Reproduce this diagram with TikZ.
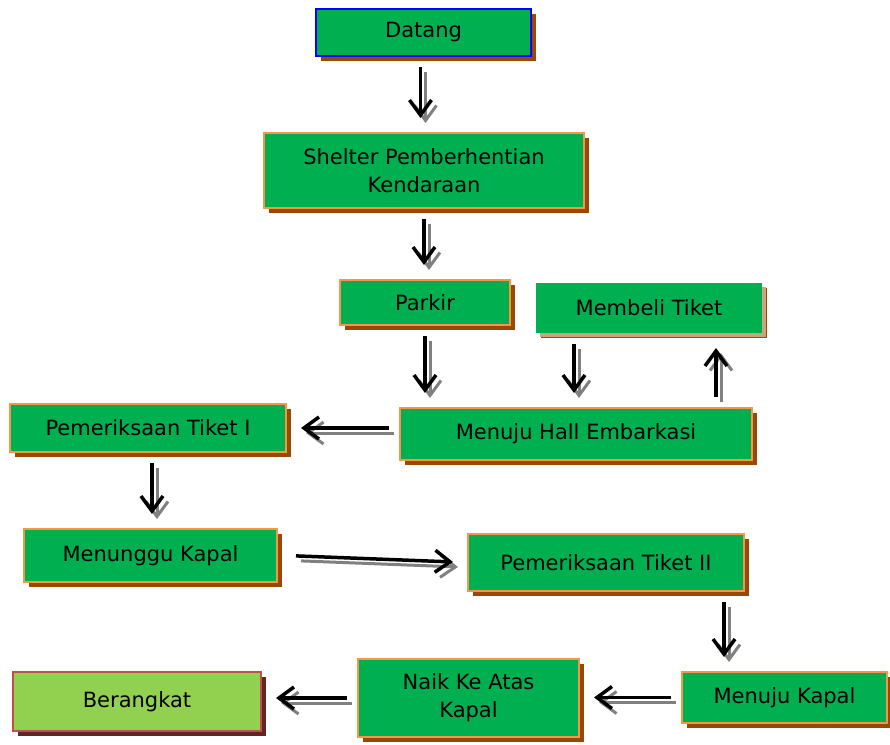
\documentclass[tikz,border=0pt]{standalone}
\usepackage{fontspec}
\setmainfont{DejaVu Sans}
\usetikzlibrary{shadows,arrows.meta}

\definecolor{boxgreen}{RGB}{0,176,80}
\definecolor{boxedge}{RGB}{247,150,70}
\definecolor{boxshade}{RGB}{152,72,7}
\definecolor{tanshade}{RGB}{204,163,124}
\definecolor{lightgreen}{RGB}{146,208,80}
\definecolor{rededge}{RGB}{192,80,77}
\definecolor{redshade}{RGB}{99,37,35}
\definecolor{arrowshade}{RGB}{128,128,128}

% arrow with its grey shadow
\newcommand{\flowarrow}[2]{%
  \draw[flowshade] #1 -- #2;
  \draw[flow] #1 -- #2;}

\begin{document}
\begin{tikzpicture}[x=1pt, y=-1pt,
    stage/.style={draw=boxedge, line width=2pt, fill=boxgreen, inner sep=0pt,
      align=center, font=\fontsize{21}{28}\selectfont,
      drop shadow={shadow xshift=5pt, shadow yshift=-5pt, fill=boxshade, opacity=1}},
    flow/.style={line width=3.5pt, shorten <=10pt, shorten >=14pt,
      -{Straight Barb[length=15pt,width=22pt]}},
    flowshade/.style={flow, draw=arrowshade, line width=3pt,
      transform canvas={shift={(5pt,-5pt)}}}]
    \useasboundingbox (0,0) rectangle (890,744);

    % Arrival
    \node[stage, draw=blue, minimum width=215pt, minimum height=47pt] (datang) at (423.5,32.5) {Datang};
    \node[stage, minimum width=320pt, minimum height=75pt] (shelter) at (424,170.5) {Shelter Pemberhentian\\Kendaraan};
    \node[stage, minimum width=170pt, minimum height=45pt] (parkir) at (425,302.5) {Parkir};

    % Ticket and hall
    \node[stage, draw=none, minimum width=226pt, minimum height=50pt,
      drop shadow={shadow xshift=4pt, shadow yshift=-4pt, fill=tanshade, opacity=1}] (membeli) at (649,308) {Membeli Tiket};
    \node[stage, minimum width=352pt, minimum height=52pt] (hall) at (576,434) {Menuju Hall Embarkasi};
    \node[stage, minimum width=276pt, minimum height=48pt] (tiket1) at (148,428) {Pemeriksaan Tiket I};

    % Waiting and boarding
    \node[stage, minimum width=253pt, minimum height=53pt] (tunggu) at (150.5,555.5) {Menunggu Kapal};
    \node[stage, minimum width=276pt, minimum height=57pt] (tiket2) at (606,562.5) {Pemeriksaan Tiket II};
    \node[stage, minimum width=205pt, minimum height=51pt] (kapal) at (784.5,697.5) {Menuju Kapal};
    \node[stage, minimum width=221pt, minimum height=78pt] (naik) at (468.5,698) {Naik Ke Atas\\Kapal};
    \node[stage, fill=lightgreen, draw=rededge, minimum width=248pt, minimum height=59pt,
      drop shadow={shadow xshift=5pt, shadow yshift=-5pt, fill=redshade, opacity=1}] (berangkat) at (137,701.5) {Berangkat};

    % Arrows
    \flowarrow{([xshift=-3pt]datang.south)}{([xshift=-3pt]datang.south |- shelter.north)}
    \flowarrow{(shelter.south)}{(shelter.south |- parkir.north)}
    \flowarrow{(parkir.south)}{(parkir.south |- hall.north)}
    \flowarrow{([xshift=-75pt]membeli.south)}{([xshift=-75pt]membeli.south |- hall.north)}
    \flowarrow{([xshift=67pt]membeli.south |- hall.north)}{([xshift=67pt]membeli.south)}
    \flowarrow{(hall.west |- tiket1.east)}{(tiket1.east)}
    \flowarrow{([xshift=4pt]tiket1.south)}{([xshift=4pt]tiket1.south |- tunggu.north)}
    \flowarrow{([xshift=8pt]tunggu.east)}{(tiket2.west)}
    \flowarrow{([xshift=118pt]tiket2.south)}{([xshift=118pt]tiket2.south |- kapal.north)}
    \flowarrow{(kapal.west)}{(kapal.west -| naik.east)}
    \flowarrow{(naik.west)}{(naik.west -| berangkat.east)}
\end{tikzpicture}
\end{document}
